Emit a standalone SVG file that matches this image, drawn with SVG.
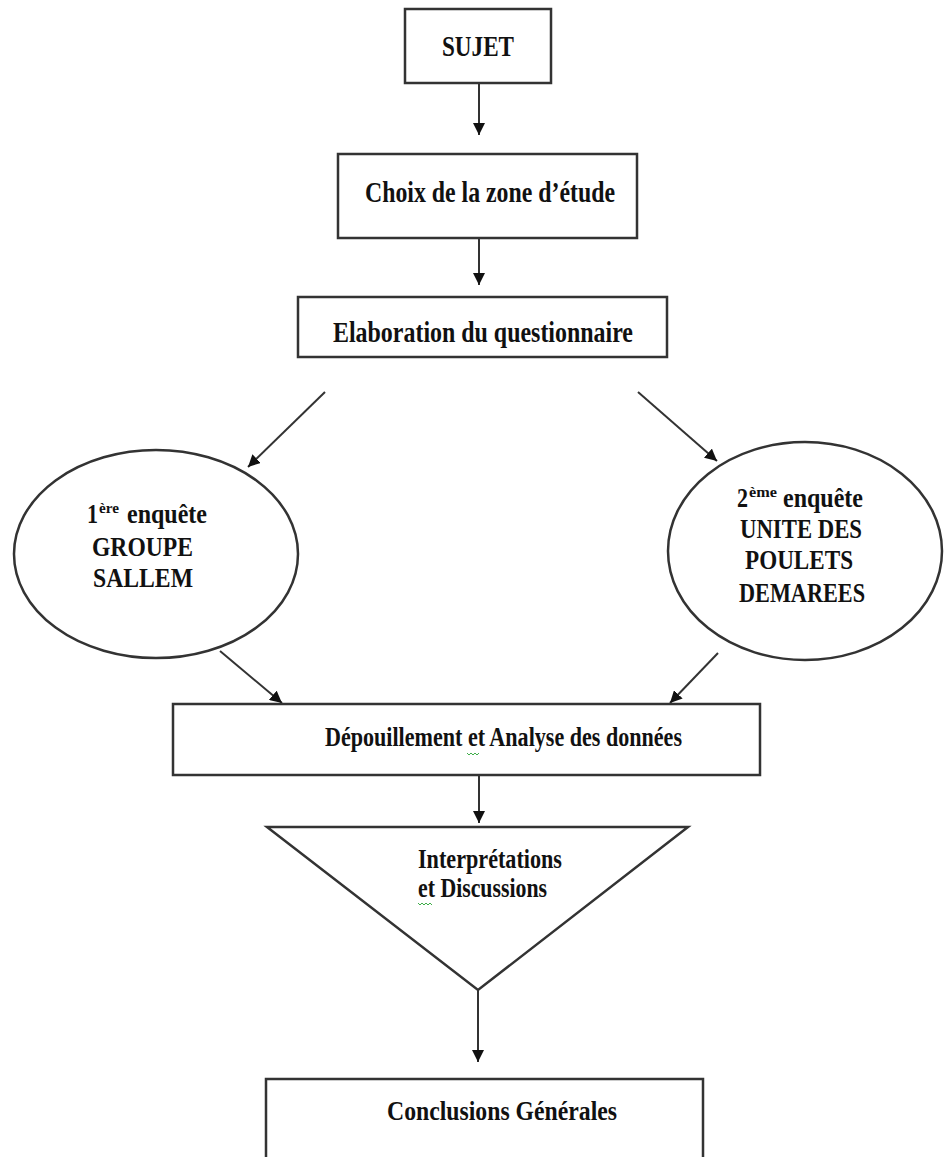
<svg xmlns="http://www.w3.org/2000/svg" width="944" height="1157" viewBox="0 0 944 1157">
  <style>
    .shape { fill: #ffffff; stroke: #333333; stroke-width: 2.5; }
    .link { fill: none; stroke: #333333; stroke-width: 2; marker-end: url(#head); }
    .lbl { font-family: "Liberation Serif", "Times New Roman", serif; font-weight: bold; font-size: 29px; fill: #111111; }
    .oval { font-size: 28px; }
    .low { font-size: 27px; }
    .mid { text-anchor: middle; }
    .sup { font-size: 15px; }
    .squiggle { fill: none; stroke: #3fae4a; stroke-width: 1; }
  </style>
  <defs>
    <marker id="head" markerUnits="userSpaceOnUse" markerWidth="12" markerHeight="12" refX="12" refY="6" orient="auto">
      <path d="M0,0 L12,6 L0,12 z" fill="#111111"/>
    </marker>
  </defs>

  <rect width="944" height="1157" fill="#ffffff"/>

  <!-- connectors -->
  <g id="connectors">
    <line class="link" x1="479" y1="84" x2="479" y2="135"/>
    <line class="link" x1="479" y1="239" x2="479" y2="285"/>
    <line class="link" x1="325" y1="392" x2="248" y2="467"/>
    <line class="link" x1="638" y1="392" x2="717" y2="461"/>
    <line class="link" x1="220" y1="651" x2="282" y2="703"/>
    <line class="link" x1="718" y1="653" x2="670" y2="703"/>
    <line class="link" x1="479" y1="776" x2="479" y2="823"/>
    <line class="link" x1="478" y1="990" x2="478" y2="1062"/>
  </g>

  <!-- start -->
  <g id="sujet">
    <rect class="shape" x="405" y="9" width="146" height="74"/>
    <text class="lbl mid" x="478" y="56" textLength="72" lengthAdjust="spacingAndGlyphs">SUJET</text>
  </g>

  <g id="zone">
    <rect class="shape" x="338" y="154" width="299" height="84"/>
    <text class="lbl mid" x="490" y="202" textLength="250" lengthAdjust="spacingAndGlyphs">Choix de la zone d’étude</text>
  </g>

  <g id="questionnaire">
    <rect class="shape" x="298" y="297" width="369" height="60"/>
    <text class="lbl mid" x="483" y="342" textLength="300" lengthAdjust="spacingAndGlyphs">Elaboration du questionnaire</text>
  </g>

  <!-- surveys -->
  <g id="enquete1">
    <ellipse class="shape" cx="156" cy="554" rx="142" ry="104"/>
    <text class="lbl oval" x="87" y="523" textLength="11" lengthAdjust="spacingAndGlyphs">1</text>
    <text class="lbl sup" x="99" y="513" textLength="20" lengthAdjust="spacingAndGlyphs">ère</text>
    <text class="lbl oval" x="127" y="523" textLength="80" lengthAdjust="spacingAndGlyphs">enquête</text>
    <text class="lbl oval" x="92" y="556" textLength="101" lengthAdjust="spacingAndGlyphs">GROUPE</text>
    <text class="lbl oval" x="93" y="587" textLength="100" lengthAdjust="spacingAndGlyphs">SALLEM</text>
  </g>

  <g id="enquete2">
    <ellipse class="shape" cx="805" cy="551" rx="137" ry="109"/>
    <text class="lbl oval" x="737" y="507" textLength="11" lengthAdjust="spacingAndGlyphs">2</text>
    <text class="lbl sup" x="749" y="497" textLength="28" lengthAdjust="spacingAndGlyphs">ème</text>
    <text class="lbl oval" x="783" y="507" textLength="80" lengthAdjust="spacingAndGlyphs">enquête</text>
    <text class="lbl oval mid" x="801" y="538" textLength="122" lengthAdjust="spacingAndGlyphs">UNITE DES</text>
    <text class="lbl oval mid" x="799" y="569" textLength="108" lengthAdjust="spacingAndGlyphs">POULETS</text>
    <text class="lbl oval mid" x="802" y="602" textLength="126" lengthAdjust="spacingAndGlyphs">DEMAREES</text>
  </g>

  <g id="analyse">
    <rect class="shape" x="173" y="704" width="587" height="71"/>
    <text class="lbl low" x="325" y="746" textLength="357" lengthAdjust="spacingAndGlyphs">Dépouillement et Analyse des données</text>
    <path class="squiggle" d="M467,753 l2,2 l2,-2 l2,2 l2,-2 l2,2 l2,-2"/>
  </g>

  <g id="interpretations">
    <polygon class="shape" points="267,827 688,827 478,990"/>
    <text class="lbl low" x="418" y="868" textLength="144" lengthAdjust="spacingAndGlyphs">Interprétations</text>
    <text class="lbl low" x="418" y="897" textLength="129" lengthAdjust="spacingAndGlyphs">et Discussions</text>
    <path class="squiggle" d="M418,903 l2,2 l2,-2 l2,2 l2,-2 l2,2 l2,-2 l2,2"/>
  </g>

  <g id="conclusions">
    <rect class="shape" x="266" y="1079" width="437" height="100"/>
    <text class="lbl low" x="387" y="1120" textLength="230" lengthAdjust="spacingAndGlyphs">Conclusions Générales</text>
  </g>
</svg>
